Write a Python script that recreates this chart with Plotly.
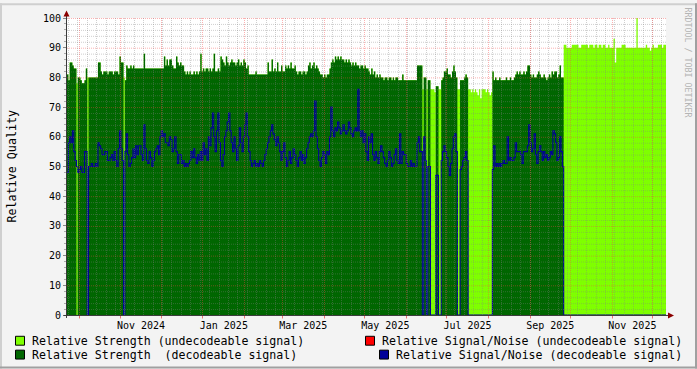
import pandas as pd
import plotly.graph_objects as go

# ---------------- data (one value per day, starting at start_date) ----------------
start_date = "2024-09-22"

strength_decodeable = [
    81, 79, 85, 85, 84, 83, 83, 0, 80, 80,
    79, 78, 78, 79, 83, 0, 80, 80, 80, 80,
    80, 80, 80, 85, 85, 82, 81, 82, 82, 82,
    81, 82, 82, 82, 81, 82, 82, 82, 81, 87,
    85, 85, 0, 79, 84, 83, 83, 84, 83, 84,
    83, 83, 83, 83, 83, 83, 83, 88, 83, 83,
    83, 83, 83, 83, 83, 83, 83, 83, 83, 83,
    83, 83, 87, 84, 86, 84, 86, 86, 84, 83,
    83, 87, 85, 84, 85, 84, 84, 82, 81, 82,
    81, 82, 81, 81, 82, 81, 82, 81, 82, 88,
    82, 83, 82, 83, 83, 82, 83, 82, 83, 88,
    82, 82, 83, 82, 87, 86, 85, 84, 87, 85,
    84, 85, 86, 85, 85, 84, 85, 86, 84, 85,
    84, 86, 85, 83, 84, 81, 81, 81, 81, 81,
    82, 81, 81, 81, 81, 81, 81, 81, 81, 85,
    82, 82, 86, 82, 83, 82, 85, 82, 82, 84,
    82, 82, 84, 83, 84, 83, 85, 83, 83, 84,
    82, 81, 82, 82, 81, 82, 82, 81, 82, 84,
    85, 83, 84, 85, 83, 84, 83, 82, 81, 81,
    80, 81, 80, 81, 81, 83, 85, 86, 85, 87,
    86, 87, 86, 87, 86, 86, 85, 86, 85, 86,
    85, 84, 85, 84, 85, 84, 84, 83, 84, 84,
    83, 84, 83, 83, 82, 81, 83, 81, 82, 80,
    81, 80, 81, 80, 80, 79, 80, 80, 79, 80,
    80, 79, 80, 79, 80, 80, 79, 79, 79, 81,
    79, 79, 79, 79, 79, 79, 79, 79, 79, 79,
    84, 84, 84, 84, 0, 80, 80, 0, 79, 79,
    0, 0, 0, 0, 77, 77, 0, 0, 79, 80,
    82, 82, 83, 81, 81, 80, 82, 84, 82, 80,
    0, 0, 79, 79, 79, 80, 81, 80, 0, 0,
    0, 0, 0, 0, 0, 0, 0, 0, 0, 0,
    0, 0, 0, 0, 0, 0, 82, 79, 80, 79,
    79, 80, 79, 79, 79, 79, 80, 79, 79, 80,
    79, 79, 80, 81, 82, 81, 82, 81, 81, 82,
    81, 82, 84, 84, 81, 80, 81, 80, 80, 81,
    82, 81, 80, 80, 81, 80, 79, 80, 81, 80,
    82, 81, 82, 82, 80, 81, 84, 80, 80, 0,
    0, 0, 0, 0, 0, 0, 0, 0, 0, 0,
    0, 0, 0, 0, 0, 0, 0, 0, 0, 0,
    0, 0, 0, 0, 0, 0, 0, 0, 0, 0,
    0, 0, 0, 0, 0, 0, 0, 0, 0, 0,
    0, 0, 0, 0, 0, 0, 0, 0, 0, 0,
    0, 0, 0, 0, 0, 0, 0, 0, 0, 0,
    0, 0, 0, 0, 0, 0, 0, 0, 0, 0,
    0, 0, 0, 0, 0,
]

strength_undecodeable = [
    0, 0, 0, 0, 0, 0, 0, 78, 0, 0,
    0, 0, 0, 0, 0, 80, 0, 0, 0, 0,
    0, 0, 0, 0, 0, 0, 0, 0, 0, 0,
    0, 0, 0, 0, 0, 0, 0, 0, 0, 0,
    0, 0, 80, 0, 0, 0, 0, 0, 0, 0,
    0, 0, 0, 0, 0, 0, 0, 0, 0, 0,
    0, 0, 0, 0, 0, 0, 0, 0, 0, 0,
    0, 0, 0, 0, 0, 0, 0, 0, 0, 0,
    0, 0, 0, 0, 0, 0, 0, 0, 0, 0,
    0, 0, 0, 0, 0, 0, 0, 0, 0, 0,
    0, 0, 0, 0, 0, 0, 0, 0, 0, 0,
    0, 0, 0, 0, 0, 0, 0, 0, 0, 0,
    0, 0, 0, 0, 0, 0, 0, 0, 0, 0,
    0, 0, 0, 0, 0, 0, 0, 0, 0, 0,
    0, 0, 0, 0, 0, 0, 0, 0, 0, 0,
    0, 0, 0, 0, 0, 0, 0, 0, 0, 0,
    0, 0, 0, 0, 0, 0, 0, 0, 0, 0,
    0, 0, 0, 0, 0, 0, 0, 0, 0, 0,
    0, 0, 0, 0, 0, 0, 0, 0, 0, 0,
    0, 0, 0, 0, 0, 0, 0, 0, 0, 0,
    0, 0, 0, 0, 0, 0, 0, 0, 0, 0,
    0, 0, 0, 0, 0, 0, 0, 0, 0, 0,
    0, 0, 0, 0, 0, 0, 0, 0, 0, 0,
    0, 0, 0, 0, 0, 0, 0, 0, 0, 0,
    0, 0, 0, 0, 0, 0, 0, 0, 0, 0,
    0, 0, 0, 0, 0, 0, 0, 0, 0, 0,
    0, 0, 0, 0, 76, 0, 0, 76, 0, 0,
    76, 76, 76, 75, 0, 0, 76, 76, 0, 0,
    0, 0, 0, 0, 0, 0, 0, 0, 0, 0,
    76, 76, 0, 0, 0, 0, 0, 0, 76, 76,
    75, 76, 75, 76, 75, 74, 76, 73, 76, 76,
    76, 75, 76, 75, 74, 75, 0, 0, 0, 0,
    0, 0, 0, 0, 0, 0, 0, 0, 0, 0,
    0, 0, 0, 0, 0, 0, 0, 0, 0, 0,
    0, 0, 0, 0, 0, 0, 0, 0, 0, 0,
    0, 0, 0, 0, 0, 0, 0, 0, 0, 0,
    0, 0, 0, 0, 0, 0, 0, 0, 0, 91,
    91, 90, 90, 90, 90, 91, 91, 91, 91, 91,
    90, 90, 91, 91, 91, 91, 91, 90, 91, 91,
    91, 90, 91, 91, 90, 91, 91, 90, 91, 91,
    90, 90, 91, 90, 90, 90, 93, 85, 90, 90,
    90, 90, 91, 91, 91, 90, 90, 90, 90, 90,
    90, 90, 90, 100, 90, 90, 90, 90, 90, 90,
    91, 90, 90, 89, 90, 91, 90, 90, 90, 91,
    91, 91, 90, 91, 91,
]

snr_decodeable = [
    48, 58, 60, 58, 62, 55, 52, 50, 48, 49,
    50, 48, 48, 55, 55, 0, 50, 50, 51, 50,
    50, 51, 50, 58, 57, 56, 54, 54, 55, 55,
    52, 52, 53, 54, 52, 55, 52, 50, 56, 62,
    56, 52, 0, 55, 61, 54, 50, 51, 53, 56,
    53, 57, 54, 57, 57, 54, 52, 64, 56, 52,
    51, 55, 53, 50, 52, 55, 56, 57, 54, 60,
    62, 60, 61, 58, 58, 57, 60, 59, 55, 56,
    60, 55, 51, 54, 54, 51, 52, 50, 51, 50,
    51, 52, 55, 53, 56, 53, 51, 54, 52, 55,
    52, 58, 54, 56, 52, 60, 57, 63, 68, 60,
    55, 62, 68, 58, 52, 50, 54, 60, 62, 65,
    68, 62, 58, 55, 60, 56, 52, 57, 63, 58,
    55, 60, 64, 68, 60, 55, 52, 50, 51, 52,
    50, 51, 50, 52, 51, 50, 52, 54, 56, 58,
    60, 62, 64, 61, 59, 57, 60, 58, 55, 52,
    55, 58, 53, 50, 52, 55, 51, 53, 56, 54,
    52, 50, 53, 55, 52, 54, 51, 53, 56, 58,
    60, 61, 60, 62, 72, 60, 56, 52, 50, 53,
    55, 54, 51, 55, 54, 60, 70, 62, 60, 63,
    62, 65, 63, 61, 62, 64, 62, 61, 62, 65,
    63, 61, 60, 62, 63, 62, 76, 62, 60, 62,
    58, 61, 55, 52, 60, 58, 61, 54, 52, 55,
    53, 51, 55, 57, 55, 53, 51, 50, 52, 55,
    53, 50, 51, 54, 56, 52, 51, 61, 51, 55,
    54, 54, 51, 50, 50, 52, 50, 51, 50, 50,
    58, 60, 55, 55, 0, 60, 52, 0, 50, 50,
    0, 0, 0, 0, 47, 47, 0, 0, 52, 55,
    57, 55, 53, 50, 47, 51, 56, 60, 61, 55,
    0, 0, 49, 50, 52, 53, 55, 52, 0, 0,
    0, 0, 0, 0, 0, 0, 0, 0, 0, 0,
    0, 0, 0, 0, 0, 0, 49, 57, 50, 51,
    50, 51, 50, 51, 52, 51, 51, 60, 52, 53,
    52, 52, 53, 58, 55, 55, 55, 54, 51, 55,
    55, 55, 57, 64, 58, 55, 56, 61, 54, 51,
    55, 57, 55, 52, 55, 53, 54, 52, 53, 55,
    54, 62, 61, 58, 52, 53, 60, 55, 50, 0,
    0, 0, 0, 0, 0, 0, 0, 0, 0, 0,
    0, 0, 0, 0, 0, 0, 0, 0, 0, 0,
    0, 0, 0, 0, 0, 0, 0, 0, 0, 0,
    0, 0, 0, 0, 0, 0, 0, 0, 0, 0,
    0, 0, 0, 0, 0, 0, 0, 0, 0, 0,
    0, 0, 0, 0, 0, 0, 0, 0, 0, 0,
    0, 0, 0, 0, 0, 0, 0, 0, 0, 0,
    0, 0, 0, 0, 0,
]

tick_months = ["2024-11", "2025-01", "2025-03", "2025-05", "2025-07", "2025-09", "2025-11"]
tick_labels = ["Nov 2024", "Jan 2025", "Mar 2025", "May 2025", "Jul 2025", "Sep 2025", "Nov 2025"]
y_tick_values = [0, 10, 20, 30, 40, 50, 60, 70, 80, 90, 100]

legend_items = [
    "Relative Strength (undecodeable signal)",
    "Relative Strength  (decodeable signal)",
    "Relative Signal/Noise (undecodeable signal)",
    "Relative Signal/Noise (decodeable signal)",
]

assert len(strength_decodeable) == len(strength_undecodeable) == len(snr_decodeable)

# ---------------- styles ----------------
LIME = "#7FFF00"
DARK = "#006600"
NAVY = "#000099"
RED = "#FF0000"
BACK = "#F3F3F3"
GRID = "rgba(130,130,130,0.38)"
MGRID = "rgba(245,70,70,0.42)"
ARROW = "#8B0000"
AXIS = "#3A3A3A"
FONT = "DejaVu Sans Mono"

W, H = 697, 369
PL, PT, PW, PH = 67, 15, 599, 300

def px(x):
    return (x - PL) / PW

def py(y):
    return (PT + PH - y) / PH

n = len(strength_decodeable)
days = pd.date_range(start_date, periods=n + 1, freq="D")
t0, t1 = days[0], days[-1]

def step(vals):
    return list(vals) + [vals[-1]]

stack_top = [a + b for a, b in zip(strength_decodeable, strength_undecodeable)]

fig = go.Figure()
fig.add_trace(go.Scatter(x=days, y=step(stack_top), mode="lines",
                         line=dict(shape="hv", width=0, color=LIME),
                         fill="tozeroy", fillcolor=LIME, hoverinfo="skip"))
fig.add_trace(go.Scatter(x=days, y=step(strength_decodeable), mode="lines",
                         line=dict(shape="hv", width=0, color=DARK),
                         fill="tozeroy", fillcolor=DARK, hoverinfo="skip"))
fig.add_trace(go.Scatter(x=days, y=step(snr_decodeable), mode="lines",
                         line=dict(shape="hv", width=1.1, color=NAVY), hoverinfo="skip"))

# label positions: middle of the labelled months
label_pos = []
for m in tick_months:
    ms = pd.Timestamp(m + "-01")
    me = ms + pd.offsets.MonthBegin(1)
    label_pos.append(ms + (me - ms) / 2)

def date_to_paper(d):
    p = (d - t0) / (t1 - t0) * PW
    return (int(p) + 0.5) / PW

shapes = []
DASH = "1px,1px"
# horizontal grid
for v in range(2, 101, 2):
    col = MGRID if v % 10 == 0 else GRID
    yy = py(PT + PH - 3 * v + 0.5)
    shapes.append(dict(type="line", xref="paper", yref="paper", x0=0, x1=1, y0=yy, y1=yy,
                       line=dict(color=col, width=1, dash=DASH), layer="above"))
# vertical minor grid (weeks)
for d in pd.date_range(t0, t1, freq="W-MON"):
    xx = date_to_paper(d)
    shapes.append(dict(type="line", xref="paper", yref="paper", x0=xx, x1=xx, y0=0, y1=1,
                       line=dict(color=GRID, width=1, dash=DASH), layer="above"))
# vertical major grid (months) + small red ticks
for d in pd.date_range(t0, t1, freq="MS"):
    xx = date_to_paper(d)
    shapes.append(dict(type="line", xref="paper", yref="paper", x0=xx, x1=xx, y0=0, y1=1,
                       line=dict(color=MGRID, width=1, dash=DASH), layer="above"))
    shapes.append(dict(type="line", xref="paper", yref="paper", x0=xx, x1=xx,
                       y0=py(315), y1=py(318.5), line=dict(color="rgba(230,80,80,0.8)", width=1),
                       layer="above"))

# axis lines
shapes.append(dict(type="line", xref="paper", yref="paper", x0=px(66.5), x1=px(66.5),
                   y0=py(318), y1=py(12), line=dict(color=AXIS, width=1), layer="above"))
shapes.append(dict(type="line", xref="paper", yref="paper", x0=px(63.5), x1=px(669),
                   y0=py(315.5), y1=py(315.5), line=dict(color=AXIS, width=1), layer="above"))
# arrows
shapes.append(dict(type="path", xref="paper", yref="paper",
                   path=f"M {px(66.5)},{py(7.5)} L {px(63.5)},{py(13.5)} L {px(69.5)},{py(13.5)} Z",
                   fillcolor=ARROW, line=dict(width=0), layer="above"))
shapes.append(dict(type="path", xref="paper", yref="paper",
                   path=f"M {px(674)},{py(315.5)} L {px(668)},{py(312.5)} L {px(668)},{py(318.5)} Z",
                   fillcolor=ARROW, line=dict(width=0), layer="above"))

# frame shading
shapes.append(dict(type="rect", xref="paper", yref="paper", x0=px(0), x1=px(W), y0=py(0), y1=py(2),
                   fillcolor="#CFCFCF", line=dict(width=0), layer="below"))
shapes.append(dict(type="rect", xref="paper", yref="paper", x0=px(0), x1=px(2), y0=py(0), y1=py(H),
                   fillcolor="#CFCFCF", line=dict(width=0), layer="below"))
shapes.append(dict(type="rect", xref="paper", yref="paper", x0=px(0), x1=px(W), y0=py(H - 2), y1=py(H),
                   fillcolor="#A0A0A0", line=dict(width=0), layer="below"))
shapes.append(dict(type="rect", xref="paper", yref="paper", x0=px(W - 2), x1=px(W), y0=py(0), y1=py(H),
                   fillcolor="#A0A0A0", line=dict(width=0), layer="below"))

# legend swatches
swatches = [(15, 336, LIME), (15, 350, DARK), (365, 336, RED), (379, 350, NAVY)]
for sx, sy, col in swatches:
    shapes.append(dict(type="rect", xref="paper", yref="paper",
                       x0=px(sx + 0.5), x1=px(sx + 9.5), y0=py(sy + 0.5), y1=py(sy + 9.5),
                       fillcolor=col, line=dict(color="#000000", width=1), layer="above"))

annotations = []
legend_text_pos = [(30, 341), (30, 355), (380, 341), (394, 355)]
for (tx, ty), txt in zip(legend_text_pos, legend_items):
    annotations.append(dict(text=txt, xref="paper", yref="paper", x=px(tx), y=py(ty),
                            xanchor="left", yanchor="middle", showarrow=False,
                            font=dict(family=FONT, size=11.6, color="#000000")))
annotations.append(dict(text="Relative Quality", xref="paper", yref="paper", x=px(11), y=py(165),
                        xanchor="center", yanchor="middle", textangle=-90, showarrow=False,
                        font=dict(family=FONT, size=11.7, color="#000000")))
annotations.append(dict(text="RRDTOOL / TOBI OETIKER", xref="paper", yref="paper", x=px(688), y=py(60),
                        xanchor="center", yanchor="middle", textangle=90, showarrow=False,
                        font=dict(family=FONT, size=8.3, color="#B4B4B4")))

fig.update_layout(
    width=W, height=H,
    margin=dict(l=PL, r=W - PL - PW, t=PT, b=H - PT - PH, pad=0),
    paper_bgcolor=BACK, plot_bgcolor="#FFFFFF",
    showlegend=False,
    font=dict(family=FONT, size=10, color="#000000"),
    shapes=shapes, annotations=annotations,
)
fig.update_xaxes(type="date", range=[t0, t1], tickmode="array", tickvals=label_pos, ticktext=tick_labels,
                 showgrid=False, zeroline=False, showline=False, ticks="", ticklabelstandoff=3,
                 tickfont=dict(family=FONT, size=10, color="#000000"))
fig.update_yaxes(range=[0, 100], tickmode="array", tickvals=y_tick_values,
                 showgrid=False, zeroline=False, showline=False,
                 ticks="outside", ticklen=3, tickcolor="#888888", tickwidth=1,
                 minor=dict(ticks="outside", ticklen=2, dtick=2, tickcolor="#AAAAAA", showgrid=False),
                 tickfont=dict(family=FONT, size=10, color="#000000"))

fig.write_html("out.html")
